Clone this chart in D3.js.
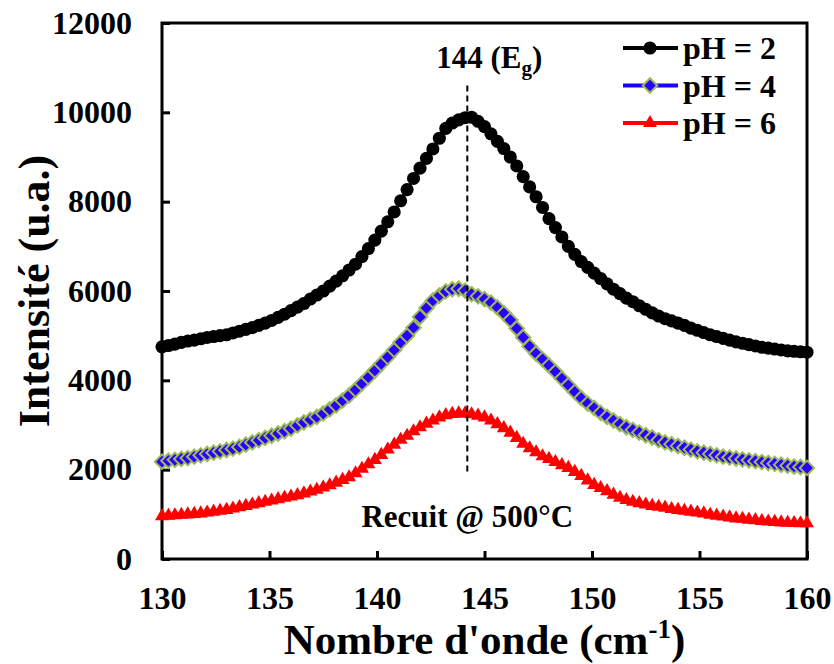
<!DOCTYPE html>
<html><head><meta charset="utf-8">
<script src="https://cdn.jsdelivr.net/npm/d3@7"></script>
<style>
html,body{margin:0;padding:0;background:#fff}
svg{display:block;font-family:"Liberation Serif","Times New Roman",serif;font-weight:bold}
svg text{font-family:"Liberation Serif","Times New Roman",serif}
</style></head>
<body><div id="chart"></div>
<script>
// Raman spectra, wavenumber in cm-1
const waves=[130.0,130.3,130.6,130.9,131.2,131.5,131.8,132.1,132.4,132.7,133.0,133.3,133.6,133.9,134.2,134.5,134.8,135.1,135.4,135.7,136.0,136.3,136.6,136.9,137.2,137.5,137.8,138.1,138.4,138.7,139.0,139.3,139.6,139.9,140.2,140.5,140.8,141.1,141.4,141.7,142.0,142.3,142.6,142.9,143.2,143.5,143.8,144.1,144.4,144.7,145.0,145.3,145.6,145.9,146.2,146.5,146.8,147.1,147.4,147.7,148.0,148.3,148.6,148.9,149.2,149.5,149.8,150.1,150.4,150.7,151.0,151.3,151.6,151.9,152.2,152.5,152.8,153.1,153.4,153.7,154.0,154.3,154.6,154.9,155.2,155.5,155.8,156.1,156.4,156.7,157.0,157.3,157.6,157.9,158.2,158.5,158.8,159.1,159.4,159.7,160.0];
const ph2=[4750,4780,4810,4850,4880,4900,4930,4960,4980,5000,5020,5060,5100,5140,5180,5230,5280,5340,5410,5480,5560,5640,5720,5820,5910,6000,6110,6220,6340,6470,6600,6770,6950,7140,7340,7550,7770,8020,8270,8520,8750,8970,9180,9420,9640,9760,9830,9880,9890,9800,9680,9520,9350,9190,9000,8800,8560,8330,8110,7870,7620,7420,7210,7000,6820,6660,6530,6400,6280,6160,6040,5940,5840,5760,5670,5590,5510,5440,5380,5330,5280,5230,5170,5120,5070,5020,4980,4940,4900,4860,4830,4800,4770,4740,4720,4700,4680,4660,4650,4640,4630];
const ph4=[2180,2200,2220,2240,2260,2290,2320,2350,2380,2410,2440,2470,2510,2560,2610,2660,2710,2760,2810,2860,2920,2990,3060,3120,3180,3260,3350,3440,3550,3660,3790,3930,4070,4220,4370,4520,4680,4850,5000,5180,5420,5620,5790,5900,5990,6040,6050,6010,5930,5880,5820,5740,5630,5500,5350,5160,4960,4760,4600,4470,4330,4190,4040,3890,3740,3600,3480,3380,3270,3180,3100,3020,2950,2890,2830,2770,2720,2660,2610,2570,2530,2490,2450,2410,2380,2350,2320,2290,2270,2250,2230,2210,2190,2170,2150,2130,2110,2090,2070,2060,2040];
const ph6=[960,970,980,990,1000,1010,1020,1040,1060,1080,1100,1130,1160,1190,1220,1250,1280,1310,1340,1370,1400,1430,1470,1510,1550,1600,1650,1710,1770,1830,1920,2020,2120,2220,2330,2450,2560,2670,2760,2860,2950,3030,3100,3170,3220,3250,3260,3260,3240,3210,3170,3100,3020,2930,2830,2710,2580,2480,2390,2300,2240,2170,2100,2040,1950,1860,1760,1660,1590,1520,1440,1370,1320,1280,1250,1220,1190,1170,1150,1120,1100,1080,1060,1040,1020,990,970,950,930,910,900,880,870,850,840,830,820,810,805,800,800];
const xTicks=[130,135,140,145,150,155,160];
const yTicks=[0,2000,4000,6000,8000,10000,12000];
const peakPos=144.2,peakTop=10600,peakBottom=1950;

const W=834,H=664,m={t:23,r:27,b:105,l:162};
const FONT='Liberation Serif, Times New Roman, serif';
const svg=d3.select('#chart').append('svg').attr('width',W).attr('height',H);
const x=d3.scaleLinear().domain([130,160]).range([m.l,W-m.r]);
const y=d3.scaleLinear().domain([0,12000]).range([H-m.b,m.t]);

const series=[
  {name:'pH = 2',vals:ph2,line:'#000',fill:'#000',stroke:'none',sym:d3.symbolCircle,size:135,rot:0},
  {name:'pH = 4',vals:ph4,line:'#1a00ff',fill:'#2a00ff',stroke:'#9bbb59',sym:d3.symbolSquare,size:105,rot:45},
  {name:'pH = 6',vals:ph6,line:'#ff0000',fill:'#ff0000',stroke:'none',sym:d3.symbolTriangle,size:85,rot:0}
];

// ticks inside
svg.append('g').attr('transform',`translate(0,${H-m.b})`)
  .call(d3.axisBottom(x).tickValues(xTicks).tickSizeInner(-8).tickSizeOuter(0).tickPadding(14))
  .call(g=>g.attr('font-family',FONT).attr('font-size',32))
  .call(g=>g.select('.domain').remove())
  .call(g=>g.selectAll('line').attr('stroke','#000').attr('stroke-width',3))
  .call(g=>g.selectAll('text').attr('fill','#000').attr('font-family',FONT).attr('dy','1.12em'));
svg.append('g').attr('transform',`translate(${m.l},0)`)
  .call(d3.axisLeft(y).tickValues(yTicks).tickSizeInner(-8).tickSizeOuter(0).tickPadding(30).tickFormat(d3.format('d')))
  .call(g=>g.attr('font-family',FONT).attr('font-size',32))
  .call(g=>g.select('.domain').remove())
  .call(g=>g.selectAll('line').attr('stroke','#000').attr('stroke-width',3))
  .call(g=>g.selectAll('text').attr('fill','#000').attr('font-family',FONT));

svg.append('rect').attr('x',m.l).attr('y',m.t).attr('width',W-m.l-m.r).attr('height',H-m.t-m.b)
  .attr('fill','none').attr('stroke','#000').attr('stroke-width',3);

const line=d3.line().x((d,i)=>x(waves[i])).y(d=>y(d));
series.forEach(s=>{
  svg.append('path').datum(s.vals).attr('fill','none').attr('stroke',s.line).attr('stroke-width',3).attr('d',line);
  svg.append('g').selectAll('path').data(s.vals).join('path')
    .attr('d',d3.symbol(s.sym,s.size))
    .attr('transform',(d,i)=>`translate(${x(waves[i])},${y(d)}) rotate(${s.rot})`)
    .attr('fill',s.fill).attr('stroke',s.stroke).attr('stroke-width',2);
});

// peak marker
svg.append('line').attr('x1',x(peakPos)).attr('x2',x(peakPos)).attr('y1',y(peakTop)).attr('y2',y(peakBottom))
  .attr('stroke','#000').attr('stroke-width',2).attr('stroke-dasharray','6,4');
const pk=svg.append('text').attr('x',x(peakPos)+22).attr('y',68).attr('text-anchor','middle').attr('font-size',31);
pk.append('tspan').text('144 (E');
pk.append('tspan').text('g').attr('font-size',21).attr('dy',7);
pk.append('tspan').text(')').attr('dy',-7);
svg.append('text').attr('x',x(peakPos)).attr('y',527).attr('text-anchor','middle').attr('font-size',31).text('Recuit @ 500°C');

// legend
const lg=svg.append('g');
series.forEach((s,i)=>{
  const ly=48+i*37.5;
  lg.append('line').attr('x1',623).attr('x2',678).attr('y1',ly).attr('y2',ly).attr('stroke',s.line).attr('stroke-width',4);
  lg.append('path').attr('d',d3.symbol(s.sym,s.size)).attr('transform',`translate(650,${ly}) rotate(${s.rot})`)
    .attr('fill',s.fill).attr('stroke',s.stroke).attr('stroke-width',2);
  lg.append('text').attr('x',683).attr('y',ly).attr('dy','0.35em').attr('font-size',32).text(s.name);
});

// axis titles
const xt=svg.append('text').attr('x',(m.l+W-m.r)/2).attr('y',654).attr('text-anchor','middle').attr('font-size',43);
xt.append('tspan').text("Nombre d'onde (cm");
xt.append('tspan').text('-1').attr('font-size',27).attr('dy',-16);
xt.append('tspan').text(')').attr('dy',16);
svg.append('text').attr('transform',`translate(49,${(m.t+H-m.b)/2}) rotate(-90)`).attr('text-anchor','middle').attr('font-size',44).text('Intensité (u.a.)');
</script></body></html>
